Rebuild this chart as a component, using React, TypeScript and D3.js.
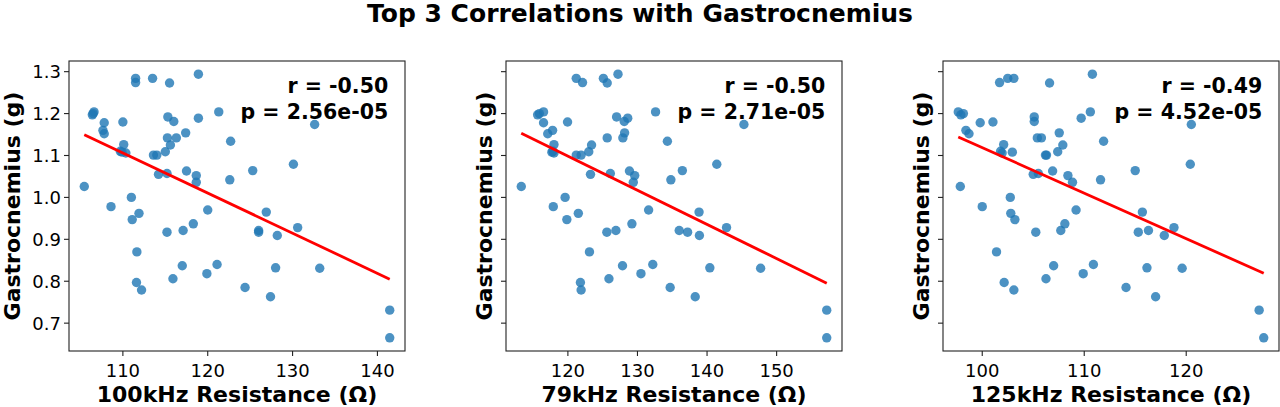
import React from 'react';
import * as d3 from 'd3';

// Gastrocnemius mass (g), one value per animal, same order in every resistance array
const GASTRO = [
  1.026, 1.204, 1.2, 1.197, 1.178, 1.16, 1.152, 0.978, 1.18, 1.126, 1.11, 1.106, 1.108,
  1.0, 0.947, 0.962, 0.87, 0.797, 0.779, 1.284, 1.274, 1.284, 1.101, 1.101, 1.055, 0.917,
  1.109, 1.142, 1.125, 1.142, 1.192, 1.181, 1.273, 1.057, 0.806, 0.837, 0.921, 1.154,
  1.063, 0.937, 1.052, 1.036, 1.294, 1.189, 0.818, 0.97, 0.84, 1.204, 1.042, 1.134,
  0.785, 1.064, 0.921, 0.917, 0.965, 0.763, 0.832, 0.909, 1.079, 0.928, 1.174, 0.831,
  0.731, 0.665,
];

const RES_100 = [
  105.45, 106.6, 106.5, 106.4, 107.8, 107.65, 107.8, 108.6, 110.0, 110.1, 109.7, 110.35, 109.9,
  111.0, 111.1, 111.9, 111.65, 111.6, 112.2, 111.5, 111.5, 113.5, 113.6, 114.0, 114.2, 115.2,
  115.0, 115.25, 115.6, 116.3, 115.3, 116.0, 115.5, 115.2, 115.9, 117.0, 117.1, 117.4,
  117.5, 118.3, 118.65, 118.65, 118.9, 118.9, 119.9, 120.0, 121.1, 121.3, 122.6, 122.7,
  124.4, 125.3, 126.0, 126.0, 126.9, 127.4, 128.0, 128.2, 130.1, 130.6, 132.6, 133.2,
  141.45, 141.45,
];

const RES_79 = [
  113.3, 116.5, 115.9, 115.65, 116.5, 117.8, 117.1, 117.9, 119.95, 118.0, 117.85, 118.0, 117.7,
  119.6, 119.85, 121.5, 123.1, 121.8, 121.9, 121.2, 122.1, 125.1, 121.2, 121.9, 123.25, 125.6,
  123.0, 125.65, 123.4, 127.9, 127.0, 128.1, 125.65, 126.1, 125.9, 127.85, 126.9, 128.15,
  128.85, 129.2, 129.6, 129.4, 127.2, 128.6, 130.5, 131.6, 132.2, 132.6, 134.8, 134.3,
  134.7, 136.45, 136.0, 137.2, 138.85, 138.3, 140.4, 138.9, 141.4, 142.8, 145.3, 147.7,
  157.2, 157.2,
];

const RES_125 = [
  97.85, 97.65, 98.15, 97.9, 99.8, 98.4, 98.7, 100.0, 101.05, 102.1, 101.8, 101.95, 102.95,
  102.75, 103.2, 102.8, 101.4, 102.15, 103.1, 102.5, 101.7, 103.1, 106.2, 106.3, 105.0, 105.25,
  107.4, 105.4, 107.9, 105.8, 105.1, 105.1, 106.6, 105.5, 106.25, 107.0, 107.7, 107.55,
  106.9, 108.1, 108.4, 108.85, 110.8, 109.7, 109.9, 109.2, 110.9, 110.6, 111.6, 111.9,
  114.1, 115.0, 116.3, 115.3, 115.7, 117.0, 116.15, 117.85, 120.4, 118.8, 120.5, 119.6,
  127.15, 127.6,
];

const X_LABELS = ['100kHz Resistance (Ω)', '79kHz Resistance (Ω)', '125kHz Resistance (Ω)'];
const X_TICKS = [[110, 120, 130, 140], [120, 130, 140, 150], [100, 110, 120]];
const Y_TICKS = [0.7, 0.8, 0.9, 1.0, 1.1, 1.2, 1.3];
const R_TEXT = ['-0.50', '-0.50', '-0.49'];
const P_TEXT = ['2.56e-05', '2.71e-05', '4.52e-05'];
const SERIES = [RES_100, RES_79, RES_125];

const W = 1280;
const H = 407;
const PANEL_LEFT = [69, 506, 943];
const PANEL_W = 336;
const TOP = 61;
const BOTTOM = 351;
const FONT = '"DejaVu Sans", sans-serif';

function padded(values: number[]): [number, number] {
  const [lo, hi] = d3.extent(values) as [number, number];
  const m = (hi - lo) * 0.05;
  return [lo - m, hi + m];
}

function fitLine(xs: number[], ys: number[]) {
  const mx = d3.mean(xs)!;
  const my = d3.mean(ys)!;
  const sxy = d3.sum(xs, (x, i) => (x - mx) * (ys[i] - my));
  const sxx = d3.sum(xs, (x) => (x - mx) ** 2);
  const slope = sxy / sxx;
  return (x: number) => my + slope * (x - mx);
}

function Panel({ idx }: { idx: number }) {
  const xs = SERIES[idx];
  const left = PANEL_LEFT[idx];
  const right = left + PANEL_W;
  const x = d3.scaleLinear().domain(padded(xs)).range([left, right]);
  const y = d3.scaleLinear().domain(padded(GASTRO)).range([BOTTOM, TOP]);
  const fit = fitLine(xs, GASTRO);
  const [xmin, xmax] = d3.extent(xs) as [number, number];
  const dots = xs.map((v, i) => ({ x: v, y: GASTRO[i] }));
  const line = d3.line<number>().x((d) => x(d)).y((d) => y(fit(d)));

  return (
    <g>
      {dots.map((d, i) => (
        <circle key={i} cx={x(d.x)} cy={y(d.y)} r={4.7} fill="#1f77b4" fillOpacity={0.8} />
      ))}
      <path d={line([xmin, xmax]) ?? ''} stroke="#ff0000" strokeWidth={2.8} fill="none" />
      <rect x={left} y={TOP} width={PANEL_W} height={BOTTOM - TOP} fill="none" stroke="#222" strokeWidth={1.1} />

      {Y_TICKS.map((t) => (
        <g key={t}>
          <line x1={left - 5} x2={left} y1={y(t)} y2={y(t)} stroke="#222" strokeWidth={1.1} />
          {idx === 0 && (
            <text x={left - 8} y={y(t)} dy="0.36em" textAnchor="end" fontSize={18} fill="#000">
              {t.toFixed(1)}
            </text>
          )}
        </g>
      ))}
      {X_TICKS[idx].map((t) => (
        <g key={t}>
          <line x1={x(t)} x2={x(t)} y1={BOTTOM} y2={BOTTOM + 5} stroke="#222" strokeWidth={1.1} />
          <text x={x(t)} y={377} textAnchor="middle" fontSize={18} fill="#000">
            {t}
          </text>
        </g>
      ))}

      <text x={(left + right) / 2} y={402} textAnchor="middle" fontSize={22} fontWeight="bold">
        {X_LABELS[idx]}
      </text>
      <text
        transform={`translate(${idx === 0 ? 20 : left - 14},${(TOP + BOTTOM) / 2}) rotate(-90)`}
        textAnchor="middle"
        fontSize={22}
        fontWeight="bold"
      >
        Gastrocnemius (g)
      </text>

      <text x={right - PANEL_W * 0.05} y={93} textAnchor="end" fontSize={20.5} fontWeight="bold">
        r = {R_TEXT[idx]}
      </text>
      <text x={right - PANEL_W * 0.05} y={119} textAnchor="end" fontSize={20.5} fontWeight="bold">
        p = {P_TEXT[idx]}
      </text>
    </g>
  );
}

export default function App() {
  return (
    <svg
      width={W}
      height={H}
      style={{ position: 'absolute', left: 0, top: 0, background: '#fff' }}
      fontFamily={FONT}
    >
      <rect width={W} height={H} fill="#fff" />
      <text x={W / 2} y={22} textAnchor="middle" fontSize={25} fontWeight="bold">
        Top 3 Correlations with Gastrocnemius
      </text>
      {SERIES.map((_, i) => (
        <Panel key={i} idx={i} />
      ))}
    </svg>
  );
}
